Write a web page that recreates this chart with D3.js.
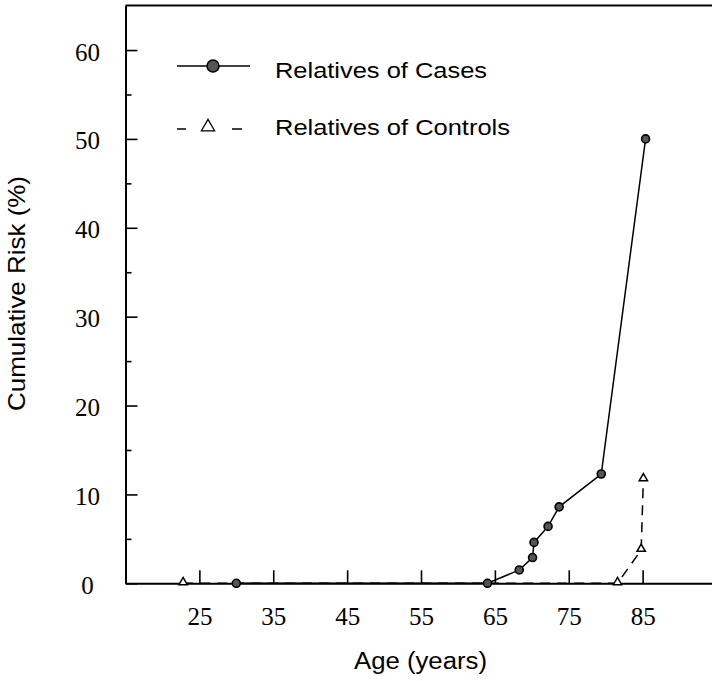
<!DOCTYPE html>
<html lang="en">
<head>
  <meta charset="UTF-8">
  <title>Cumulative Risk by Age</title>
  <style>
    body {
      margin: 0;
      padding: 0;
      background-color: #fff;
    }

    .axis path, .axis line {
      stroke: #000;
    }

    .axis path {
      stroke-width: 2px;
    }

    .axis line {
      stroke-width: 1.6px;
    }

    .axis text {
      font-family: "Liberation Serif", "Times New Roman", serif;
      font-size: 25px;
      fill: #000;
    }

    .axis-label, .legend text {
      font-family: "Liberation Sans", Arial, sans-serif;
      fill: #000;
    }

    .cases-line {
      fill: none;
      stroke: #000;
      stroke-width: 1.5px;
    }

    .controls-line {
      fill: none;
      stroke: #000;
      stroke-width: 1.5px;
      stroke-dasharray: 10, 7;
    }
  </style>
</head>
<body>
  <div class="chart"></div>

  <script src="https://d3js.org/d3.v7.min.js"></script>
  <script>
    // Relatives of cases: age (years) and cumulative risk (%)
    const casesAge = [30, 64, 68.3, 70.1, 70.3, 72.2, 73.7, 79.4, 85.4];
    const casesRisk = [0, 0, 1.5, 2.9, 4.6, 6.4, 8.6, 12.3, 50];

    // Relatives of controls
    const controlsAge = [22.8, 81.6, 84.8, 85.1];
    const controlsRisk = [0, 0, 3.75, 11.7];

    const xTicks = [25, 35, 45, 55, 65, 75, 85];
    const yTicks = [0, 10, 20, 30, 40, 50, 60];
    const yMinorTicks = [5, 15, 25, 35, 45, 55];
    const legendLabels = ["Relatives of Cases", "Relatives of Controls"];

    const width = 712;
    const height = 681;

    const svg = d3.select(".chart")
      .append("svg")
        .attr("width", width)
        .attr("height", height);

    // Scales
    const xScale = d3.scaleLinear()
      .domain([15, 95])
      .range([125.5, 716.5]);

    const yScale = d3.scaleLinear()
      .domain([0, 65])
      .range([583.3, 5.6]);

    const cases = casesAge.map((a, i) => ({ age: a, risk: casesRisk[i] }));
    const controls = controlsAge.map((a, i) => ({ age: a, risk: controlsRisk[i] }));

    // Top frame line
    svg.append("line")
      .attr("x1", xScale(15))
      .attr("x2", xScale(95))
      .attr("y1", yScale(65))
      .attr("y2", yScale(65))
      .attr("stroke", "#000")
      .attr("stroke-width", 2);

    // Y axis, ticks pointing inward
    const yAxis = svg.append("g")
      .attr("class", "axis")
      .attr("transform", `translate(${xScale(15)},0)`)
      .call(d3.axisLeft(yScale)
        .tickValues(yTicks)
        .tickSize(-12)
        .tickSizeOuter(0)
        .tickFormat(d3.format("d")));

    yAxis.selectAll(".tick text")
      .attr("text-anchor", "middle")
      .attr("x", -38)
      .attr("dy", "0.4em");

    svg.append("g")
      .attr("class", "axis")
      .attr("transform", `translate(${xScale(15)},0)`)
      .call(d3.axisLeft(yScale)
        .tickValues(yMinorTicks)
        .tickSize(-6)
        .tickSizeOuter(0)
        .tickFormat(""))
      .select(".domain").remove();

    // X axis, ticks pointing up
    const xAxis = svg.append("g")
      .attr("class", "axis")
      .attr("transform", `translate(0,${yScale(0)})`)
      .call(d3.axisBottom(xScale)
        .tickValues(xTicks)
        .tickSize(-13)
        .tickSizeOuter(0)
        .tickFormat(d3.format("d")));

    xAxis.selectAll(".tick text")
      .attr("y", 42)
      .attr("dy", 0);

    // Lines
    const line = d3.line()
      .x(d => xScale(d.age))
      .y(d => yScale(d.risk));

    svg.append("path")
      .datum(controls)
      .attr("class", "controls-line")
      .attr("d", line);

    svg.append("path")
      .datum(cases)
      .attr("class", "cases-line")
      .attr("d", line);

    // Markers
    const triangle = d3.symbol().type(d3.symbolTriangle).size(30);

    svg.selectAll(".ctrl-pt")
      .data(controls)
      .join("path")
        .attr("class", "ctrl-pt")
        .attr("d", triangle)
        .attr("transform", d => `translate(${xScale(d.age)},${yScale(d.risk) - 1})`)
        .attr("fill", "#fff")
        .attr("stroke", "#000")
        .attr("stroke-width", 1.5);

    svg.selectAll(".case-pt")
      .data(cases)
      .join("circle")
        .attr("class", "case-pt")
        .attr("cx", d => xScale(d.age))
        .attr("cy", d => yScale(d.risk))
        .attr("r", 4)
        .attr("fill", "#555")
        .attr("stroke", "#000")
        .attr("stroke-width", 1.6);

    // Legend
    const legend = svg.append("g").attr("class", "legend");

    legend.append("line")
      .attr("x1", 177).attr("x2", 250)
      .attr("y1", 66).attr("y2", 66)
      .attr("stroke", "#000")
      .attr("stroke-width", 1.5);

    legend.append("circle")
      .attr("cx", 213).attr("cy", 66).attr("r", 6)
      .attr("fill", "#555")
      .attr("stroke", "#000")
      .attr("stroke-width", 1.5);

    legend.append("line")
      .attr("x1", 177).attr("x2", 186)
      .attr("y1", 129).attr("y2", 129)
      .attr("stroke", "#000")
      .attr("stroke-width", 1.5);

    legend.append("line")
      .attr("x1", 232).attr("x2", 242)
      .attr("y1", 129).attr("y2", 129)
      .attr("stroke", "#000")
      .attr("stroke-width", 1.5);

    legend.append("path")
      .attr("d", d3.symbol().type(d3.symbolTriangle).size(75))
      .attr("transform", "translate(208,127)")
      .attr("fill", "#fff")
      .attr("stroke", "#000")
      .attr("stroke-width", 1.3);

    legend.append("text")
      .attr("x", 275).attr("y", 78)
      .attr("font-size", 22)
      .attr("textLength", 212)
      .attr("lengthAdjust", "spacingAndGlyphs")
      .text(legendLabels[0]);

    legend.append("text")
      .attr("x", 275).attr("y", 134.5)
      .attr("font-size", 22)
      .attr("textLength", 235)
      .attr("lengthAdjust", "spacingAndGlyphs")
      .text(legendLabels[1]);

    // X Axis Label
    svg.append("text")
      .attr("class", "axis-label")
      .attr("x", 354)
      .attr("y", 669)
      .attr("font-size", 23)
      .attr("textLength", 133)
      .attr("lengthAdjust", "spacingAndGlyphs")
      .text("Age (years)");

    // Y Axis Label
    svg.append("text")
      .attr("class", "axis-label")
      .attr("transform", "rotate(-90)")
      .attr("x", -411)
      .attr("y", 25)
      .attr("font-size", 24)
      .attr("textLength", 235)
      .attr("lengthAdjust", "spacingAndGlyphs")
      .text("Cumulative Risk (%)");
  </script>
</body>
</html>
